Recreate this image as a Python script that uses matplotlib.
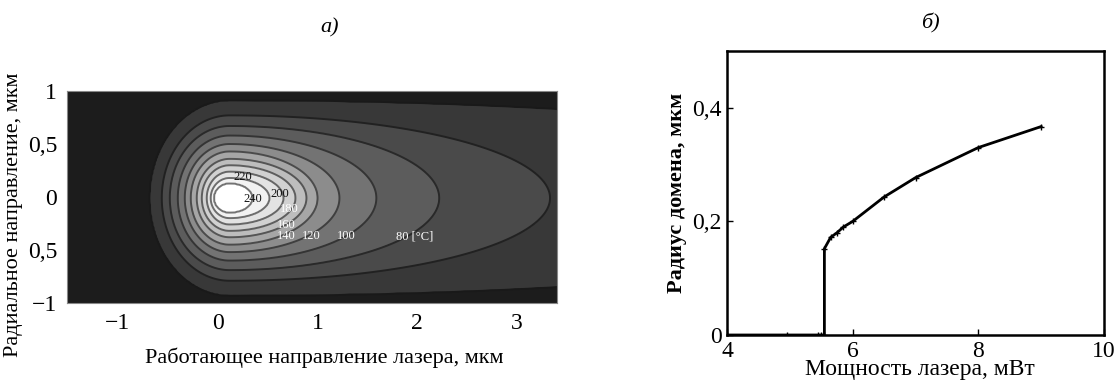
import numpy as np
import matplotlib
matplotlib.use("Agg")
import matplotlib.pyplot as plt

plt.rcParams['font.family'] = ['Liberation Serif', 'DejaVu Serif']

# --- panel a): temperature field, contour shapes ---
levels = [40, 60, 80, 100, 120, 140, 160, 180, 200, 220, 240]
# half-extents of each isotherm from the spot centre (mkm)
ext_front = [0.80, 0.68, 0.60, 0.52, 0.45, 0.39, 0.33, 0.28, 0.23, 0.19, 0.16]
ext_side = [0.92, 0.78, 0.68, 0.59, 0.51, 0.44, 0.37, 0.31, 0.25, 0.19, 0.14]
ext_back = [8.0, 3.21, 2.10, 1.47, 1.10, 0.88, 0.77, 0.66, 0.54, 0.40, 0.23]
spot_x, spot_y = 0.12, -0.01

band_grey = [0.11, 0.22, 0.29, 0.36, 0.45, 0.55, 0.65, 0.74, 0.82, 0.89, 0.95, 1.0]

label_text = ['220', '240', '200', '180', '160', '140', '120', '100', '80 [°C]']
label_x = [0.25, 0.35, 0.62, 0.72, 0.69, 0.69, 0.94, 1.29, 1.97]
label_y = [0.19, -0.02, 0.03, -0.11, -0.26, -0.37, -0.37, -0.37, -0.37]

# --- panel б): domain radius vs laser power ---
power = [4.0, 4.95, 5.45, 5.5, 5.55, 5.55, 5.65, 5.75, 5.85, 6.0, 6.5, 7.0, 8.0, 9.0]
radius = [0.0, 0.0, 0.0, 0.0, 0.0, 0.152, 0.172, 0.18, 0.19, 0.2, 0.243, 0.277, 0.33, 0.367]


def build_field(xs, ys):
    X, Y = np.meshgrid(xs, ys)
    dx = X - spot_x
    dy = Y - spot_y
    s = []
    for a_f, a_s, a_b in zip(ext_front, ext_side, ext_back):
        a = np.where(dx > 0, a_b, a_f)
        s.append(np.sqrt((dx / a) ** 2 + (dy / a_s) ** 2))
    s = np.array(s)
    T = np.empty_like(X)
    for j in range(X.shape[0]):
        for k in range(X.shape[1]):
            sp = s[:, j, k]
            if sp[0] >= 1:
                T[j, k] = levels[0] - 20 * (sp[0] - 1)
            elif sp[-1] < 1:
                T[j, k] = levels[-1] + 15 * (1 - sp[-1])
            else:
                T[j, k] = np.interp(1.0, sp, levels)
    return X, Y, T


fig = plt.figure(figsize=(11.16, 3.81), dpi=100)

# ---- a) ----
ax1 = fig.add_axes([67 / 1116, 1 - 303 / 381, 490 / 1116, 212 / 381])
xs = np.linspace(-1.51, 3.40, 420)
ys = np.linspace(-1, 1, 200)
X, Y, T = build_field(xs, ys)
bounds = [-1000] + levels + [1000]
fill_cols = [str(g) for g in band_grey]
ax1.contourf(X, Y, T, levels=bounds, colors=fill_cols)
line_cols = [str(g * 0.45) for g in band_grey[1:]]
ax1.contour(X, Y, T, levels=levels, colors=line_cols, linewidths=1.4)
for i, (t, lx, ly) in enumerate(zip(label_text, label_x, label_y)):
    c = '#111111' if i < 3 else 'white'
    ax1.text(lx, ly, t, color=c, fontsize=9, ha='center', va='center')
ax1.set_xlim(-1.51, 3.40)
ax1.set_ylim(-1, 1)
ax1.set_xticks([-1, 0, 1, 2, 3])
ax1.set_xticklabels(['\u22121', '0', '1', '2', '3'])
ax1.set_yticks([-1, -0.5, 0, 0.5, 1])
ax1.set_yticklabels(['\u22121', '0,5', '0', '0,5', '1'])
ax1.tick_params(length=0, labelsize=17, pad=7)
for sp in ax1.spines.values():
    sp.set_color('#888888')
    sp.set_linewidth(0.8)
fig.text(324 / 1116, 1 - 358 / 381, 'Работающее направление лазера, мкм',
         fontsize=16, ha='center', va='center')
fig.text(14 / 1116, 1 - 215 / 381, 'Радиальное направление, мкм',
         fontsize=16, ha='center', va='center', rotation=90)
fig.text(330 / 1116, 1 - 28 / 381, 'а)', fontsize=16, style='italic',
         ha='center', va='center')

# ---- б) ----
ax2 = fig.add_axes([727 / 1116, 1 - 335 / 381, 377 / 1116, 284 / 381])
ax2.plot(power, radius, color='black', linewidth=2, marker='+',
         markersize=5, markeredgewidth=1)
ax2.set_xlim(4, 10)
ax2.set_ylim(0, 0.5)
ax2.set_xticks([4, 6, 8, 10])
ax2.set_yticks([0, 0.2, 0.4])
ax2.set_yticklabels(['0', '0,2', '0,4'])
ax2.tick_params(direction='in', length=4, width=1, labelsize=17, pad=4)
for sp in ax2.spines.values():
    sp.set_linewidth(1.8)
fig.text(920 / 1116, 1 - 370 / 381, 'Мощность лазера, мВт', fontsize=17,
         ha='center', va='center')
fig.text(677 / 1116, 1 - 193 / 381, 'Радиус домена, мкм', fontsize=16,
         ha='center', va='center', rotation=90, fontweight='bold')
fig.text(930 / 1116, 1 - 23 / 381, 'б)', fontsize=16, style='italic',
         ha='center', va='center')

fig.savefig('out.png', dpi=100)
